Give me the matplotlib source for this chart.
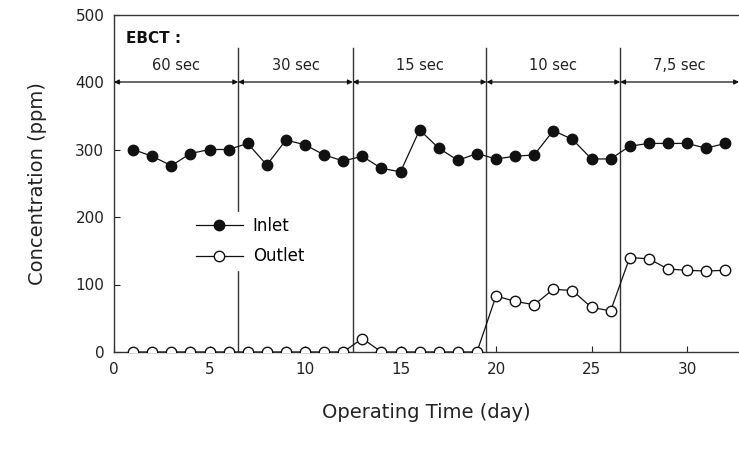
import numpy as np
import matplotlib
matplotlib.use("Agg")
import matplotlib.pyplot as plt

# data
days = np.arange(1, 33)
inlet = [300, 290, 276, 294, 300, 300, 309, 277, 314, 307, 292, 283,
         290, 272, 267, 329, 302, 284, 294, 286, 290, 292, 328, 315,
         286, 286, 305, 309, 309, 309, 302, 309]
outlet = [0, 0, 0, 0, 0, 0, 0, 0, 0, 0, 0, 0,
          20, 0, 0, 0, 0, 0, 0, 83, 75, 70, 93, 91,
          66, 61, 140, 138, 123, 121, 120, 121]

# EBCT periods
bounds = [0, 6.5, 12.5, 19.5, 26.5, 32.72]
ebct_labels = ["60 sec", "30 sec", "15 sec", "10 sec", "7,5 sec"]

plt.rcParams['font.family'] = ['DejaVu Sans']

fig = plt.figure(figsize=(7.39, 4.54), dpi=100)
ax = fig.add_axes([114/739, 1-352/454, (739-114)/739, (352-14.5)/454])

c = '#111111'
ax.plot(days, inlet, '-o', color=c, lw=0.9, ms=7.5, mfc=c, mec=c, label='Inlet', zorder=3)
ax.plot(days, outlet, '-o', color=c, lw=0.9, ms=7.5, mfc='white', mec=c, mew=1.0,
        label='Outlet', zorder=3)

for b in bounds[1:-1]:
    ax.plot([b, b], [0, 450], color='#333333', lw=1.0, zorder=1)

for i, lab in enumerate(ebct_labels):
    x0, x1 = bounds[i], bounds[i+1]
    ax.annotate('', xy=(x1, 400), xytext=(x0, 400),
                arrowprops=dict(arrowstyle='<|-|>', color=c, lw=0.9,
                                mutation_scale=7, shrinkA=0, shrinkB=0))
    ax.text((x0 + x1) / 2, 425, lab, ha='center', va='center',
            fontsize=10.5, color='#222222')

ax.text(0.65, 465, 'EBCT :', ha='left', va='center', fontsize=11,
        fontweight='bold', color=c)

ax.set_xlim(0, 32.72)
ax.set_ylim(0, 500)
ax.set_xticks([0, 5, 10, 15, 20, 25, 30])
ax.set_yticks([0, 100, 200, 300, 400, 500])
ax.tick_params(direction='in', length=4, labelsize=11, colors='#222222', pad=7)
ax.spines['right'].set_visible(False)
for s in ['left', 'bottom', 'top']:
    ax.spines[s].set_color('#333333')
    ax.spines[s].set_linewidth(1.0)

ax.set_xlabel('Operating Time (day)', fontsize=14, labelpad=19, color='#222222')
ax.set_ylabel('Concentration (ppm)', fontsize=14, labelpad=20, color='#222222')

leg = ax.legend(loc='upper left', bbox_to_anchor=(0.11, 0.44), frameon=True,
                fontsize=12, handlelength=2.8, labelspacing=0.75,
                borderpad=0.3, handletextpad=0.6)
leg.get_frame().set_edgecolor('white')
leg.get_frame().set_facecolor('white')
leg.get_frame().set_alpha(1)
leg.set_zorder(5)

fig.savefig('out.png', dpi=100)
